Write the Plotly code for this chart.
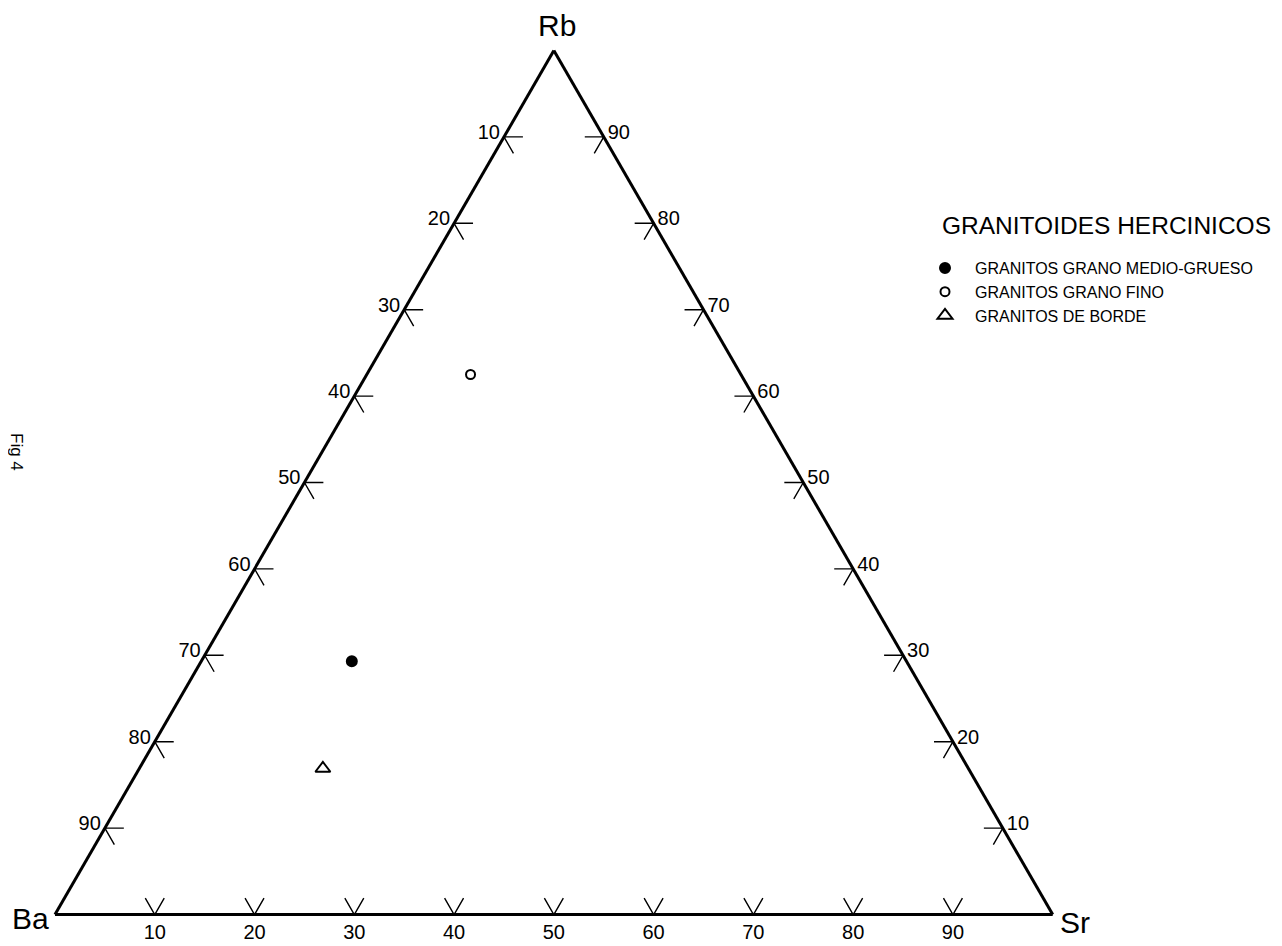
import plotly.graph_objects as go

# ---- data ----
groups = ["GRANITOS GRANO MEDIO-GRUESO", "GRANITOS GRANO FINO", "GRANITOS DE BORDE"]
rb_vals = [29.3, 62.5, 16.9]
ba_vals = [55.6, 27.1, 64.7]
sr_vals = [15.1, 10.4, 18.4]
symbols = ["circle", "circle-open", "triangle-up-open"]
sizes = [10, 9, 13]

tick_vals = [10, 20, 30, 40, 50, 60, 70, 80, 90]
tick_labels = [str(v) for v in tick_vals]
corner_names = ["Rb", "Ba", "Sr"]
legend_title = "GRANITOIDES HERCINICOS"

FONT = "Liberation Sans, Arial, sans-serif"
STUB = 1.9         # stub length (percent units)
EDGE_SHIFT = 0.8   # side-label anchor shift along edges

fig = go.Figure()

# ---- tick stubs (short grid-line segments) ----
sa, sb, sc = [], [], []
def seg(p1, p2, p3):
    for p in (p1, p2, p3):
        sa.append(p[0]); sb.append(p[1]); sc.append(p[2])
    sa.append(None); sb.append(None); sc.append(None)

for v in tick_vals:
    # bottom edge (Rb = 0, Sr = v)
    seg((STUB, 100 - v - STUB, v), (0, 100 - v, v), (STUB, 100 - v, v - STUB))
    # left edge (Sr = 0, Ba = v)
    seg((100 - v, v - STUB, STUB), (100 - v, v, 0), (100 - v - STUB, v, STUB))
    # right edge (Ba = 0, Rb = v)
    seg((v, STUB, 100 - v - STUB), (v, 0, 100 - v), (v - STUB, STUB, 100 - v))

fig.add_trace(go.Scatterternary(
    a=sa, b=sb, c=sc, mode="lines",
    line=dict(color="black", width=1.4),
    showlegend=False, hoverinfo="skip", cliponaxis=False))

# ---- tick labels ----
lab_font = dict(family=FONT, size=20, color="black")
# bottom: Sr %  (invisible marker pushes text down a bit)
fig.add_trace(go.Scatterternary(
    a=[0] * len(tick_vals), b=[100 - v for v in tick_vals], c=tick_vals,
    mode="markers+text", text=tick_labels, textposition="bottom center",
    marker=dict(size=13, color="rgba(0,0,0,0)"),
    textfont=lab_font, showlegend=False, hoverinfo="skip", cliponaxis=False))
# left: Ba %
fig.add_trace(go.Scatterternary(
    a=[100 - v - EDGE_SHIFT for v in tick_vals],
    b=[v + EDGE_SHIFT for v in tick_vals],
    c=[0] * len(tick_vals),
    mode="text", text=tick_labels, textposition="top left",
    textfont=lab_font, showlegend=False, hoverinfo="skip", cliponaxis=False))
# right: Rb %
fig.add_trace(go.Scatterternary(
    a=[v - EDGE_SHIFT for v in tick_vals],
    b=[0] * len(tick_vals),
    c=[100 - v + EDGE_SHIFT for v in tick_vals],
    mode="text", text=tick_labels, textposition="top right",
    textfont=lab_font, showlegend=False, hoverinfo="skip", cliponaxis=False))

# ---- data points ----
for name, a, b, c, sym, sz in zip(groups, rb_vals, ba_vals, sr_vals, symbols, sizes):
    fig.add_trace(go.Scatterternary(
        a=[a], b=[b], c=[c], mode="markers", name=name,
        marker=dict(symbol=sym, size=sz, color="black",
                    line=dict(color="black", width=2)),
        cliponaxis=False))

axis_style = dict(showline=True, linewidth=3, linecolor="black",
                  showgrid=False, ticks="", showticklabels=False,
                  title=dict(text=""), min=0)

W, H = 1282, 946
corner_font = dict(family=FONT, size=30, color="black")
corner_pos = [(549, 18), (22, 910), (1067, 914)]   # label centres (px)

annotations = [
    dict(text=name, xref="paper", yref="paper",
         x=px / W, y=1 - py / H, xanchor="center", yanchor="middle",
         showarrow=False, font=corner_font)
    for name, (px, py) in zip(corner_names, corner_pos)
]
annotations += [
    dict(text=legend_title, xref="paper", yref="paper",
         x=932 / W, y=1 - 217 / H, xanchor="left", yanchor="middle",
         showarrow=False, font=dict(family=FONT, size=24.5, color="black")),
    dict(text="Fig 4", xref="paper", yref="paper",
         x=9 / W, y=1 - 444 / H, xanchor="center", yanchor="middle",
         textangle=90, showarrow=False,
         font=dict(family=FONT, size=17, color="black")),
]

fig.update_layout(
    width=W, height=H,
    margin=dict(l=0, r=0, t=0, b=0),
    paper_bgcolor="white",
    showlegend=True,
    hovermode=False,
    ternary=dict(
        sum=100,
        domain=dict(x=[0.03666, 0.81490], y=[0.03841, 0.95841]),
        bgcolor="white",
        aaxis=axis_style, baxis=axis_style, caxis=axis_style,
    ),
    legend=dict(
        x=907 / W, y=1 - 243 / H, xanchor="left", yanchor="top",
        itemwidth=50, bgcolor="rgba(0,0,0,0)", borderwidth=0,
        font=dict(family=FONT, size=16, color="black"),
        itemclick=False, itemdoubleclick=False,
    ),
    annotations=annotations,
)

fig.write_html("out.html")
